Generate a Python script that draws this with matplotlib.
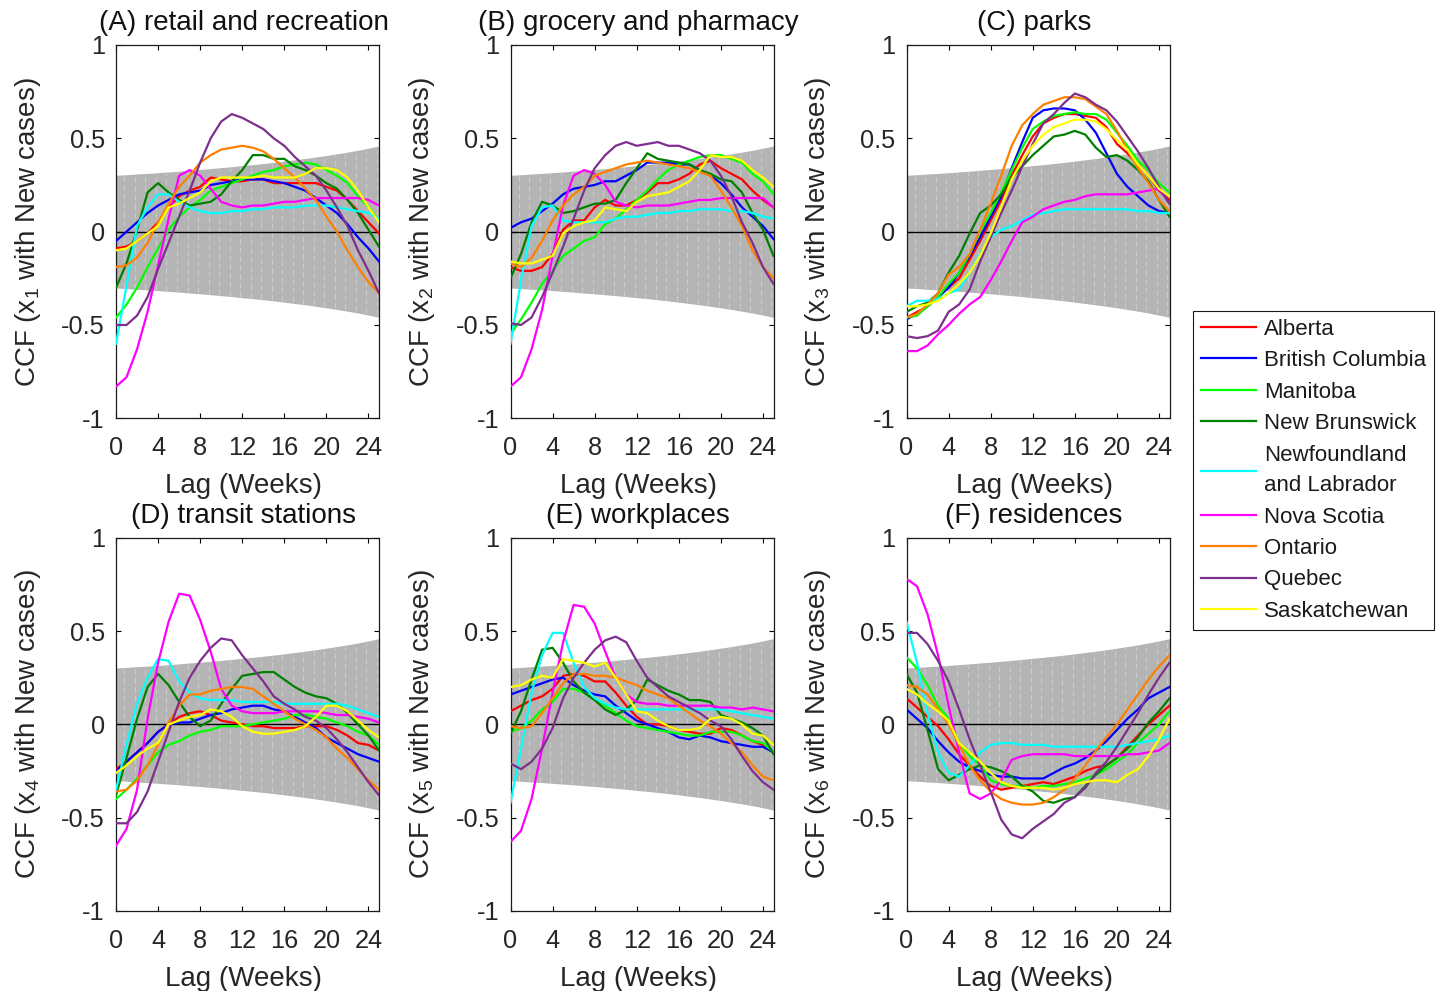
import numpy as np
import matplotlib
matplotlib.use("Agg")
import matplotlib.pyplot as plt

plt.rcParams['font.family'] = ['Liberation Sans', 'DejaVu Sans']
plt.rcParams['mathtext.fontset'] = 'custom'
plt.rcParams['mathtext.rm'] = 'Liberation Sans'
plt.rcParams['mathtext.it'] = 'Liberation Sans:italic'
plt.rcParams['axes.unicode_minus'] = False

lags = np.arange(26)

provinces = ["Alberta", "British Columbia", "Manitoba", "New Brunswick",
             "Newfoundland\nand Labrador", "Nova Scotia", "Ontario", "Quebec",
             "Saskatchewan"]
colors = ["#ff0000", "#0000ff", "#00ff00", "#008000", "#00ffff",
          "#ff00ff", "#ff8000", "#7e2f8e", "#ffff00"]

titles = ["(A) retail and recreation", "(B) grocery and pharmacy", "(C) parks",
          "(D) transit stations", "(E) workplaces", "(F) residences"]

# significance bound of the CCF at each lag
bound = [0.302, 0.305, 0.309, 0.312, 0.316, 0.320, 0.324, 0.329, 0.333,
         0.338, 0.343, 0.348, 0.354, 0.359, 0.365, 0.371, 0.378, 0.385,
         0.392, 0.400, 0.408, 0.417, 0.426, 0.436, 0.447, 0.459]

# rows follow the province order above
retail = [
    [-0.09, -0.08, -0.05, -0.01, 0.05, 0.13, 0.19, 0.22, 0.24, 0.29, 0.28, 0.27, 0.27, 0.28, 0.28, 0.26, 0.26, 0.26, 0.26, 0.26, 0.24, 0.22, 0.17, 0.11, 0.05, -0.01],
    [-0.05, 0.00, 0.05, 0.10, 0.14, 0.17, 0.20, 0.21, 0.22, 0.25, 0.26, 0.27, 0.28, 0.28, 0.28, 0.27, 0.26, 0.24, 0.22, 0.18, 0.14, 0.10, 0.04, -0.03, -0.09, -0.16],
    [-0.46, -0.39, -0.30, -0.19, -0.09, 0.01, 0.08, 0.13, 0.17, 0.22, 0.24, 0.26, 0.28, 0.30, 0.32, 0.33, 0.35, 0.36, 0.37, 0.36, 0.33, 0.30, 0.26, 0.19, 0.13, 0.06],
    [-0.30, -0.17, 0.01, 0.21, 0.26, 0.21, 0.17, 0.14, 0.15, 0.16, 0.20, 0.27, 0.33, 0.41, 0.41, 0.39, 0.39, 0.35, 0.33, 0.30, 0.26, 0.23, 0.17, 0.10, 0.01, -0.08],
    [-0.60, -0.29, 0.03, 0.13, 0.20, 0.20, 0.16, 0.13, 0.11, 0.10, 0.10, 0.11, 0.11, 0.12, 0.12, 0.13, 0.13, 0.13, 0.14, 0.14, 0.14, 0.13, 0.12, 0.11, 0.10, 0.07],
    [-0.83, -0.78, -0.63, -0.43, -0.18, 0.07, 0.30, 0.33, 0.30, 0.23, 0.16, 0.14, 0.13, 0.14, 0.14, 0.15, 0.16, 0.16, 0.17, 0.18, 0.18, 0.18, 0.18, 0.18, 0.17, 0.14],
    [-0.19, -0.18, -0.14, -0.06, 0.05, 0.15, 0.24, 0.30, 0.37, 0.41, 0.44, 0.45, 0.46, 0.45, 0.43, 0.39, 0.34, 0.29, 0.23, 0.17, 0.08, 0.00, -0.10, -0.19, -0.27, -0.33],
    [-0.50, -0.50, -0.45, -0.35, -0.20, -0.06, 0.08, 0.22, 0.37, 0.50, 0.59, 0.63, 0.61, 0.58, 0.55, 0.50, 0.46, 0.40, 0.35, 0.30, 0.22, 0.13, 0.03, -0.10, -0.21, -0.33],
    [-0.10, -0.09, -0.05, -0.01, 0.03, 0.13, 0.15, 0.18, 0.21, 0.27, 0.29, 0.29, 0.29, 0.29, 0.30, 0.29, 0.29, 0.29, 0.31, 0.34, 0.34, 0.33, 0.29, 0.22, 0.13, 0.05],
]

grocery = [
    [-0.19, -0.21, -0.21, -0.19, -0.12, 0.01, 0.06, 0.06, 0.13, 0.17, 0.14, 0.14, 0.17, 0.21, 0.26, 0.26, 0.28, 0.31, 0.36, 0.38, 0.34, 0.31, 0.28, 0.22, 0.17, 0.13],
    [0.02, 0.05, 0.07, 0.11, 0.15, 0.20, 0.23, 0.24, 0.25, 0.27, 0.27, 0.30, 0.33, 0.37, 0.37, 0.37, 0.36, 0.36, 0.33, 0.30, 0.26, 0.20, 0.13, 0.08, 0.03, -0.04],
    [-0.55, -0.47, -0.38, -0.28, -0.21, -0.13, -0.09, -0.05, -0.03, 0.04, 0.07, 0.12, 0.17, 0.22, 0.28, 0.33, 0.36, 0.38, 0.40, 0.41, 0.41, 0.39, 0.37, 0.31, 0.27, 0.20],
    [-0.25, -0.12, 0.05, 0.16, 0.14, 0.10, 0.11, 0.13, 0.15, 0.15, 0.17, 0.26, 0.34, 0.42, 0.39, 0.38, 0.37, 0.36, 0.33, 0.31, 0.28, 0.27, 0.21, 0.10, 0.01, -0.13],
    [-0.60, -0.26, 0.03, 0.13, 0.14, 0.06, 0.05, 0.05, 0.05, 0.05, 0.07, 0.08, 0.08, 0.09, 0.10, 0.10, 0.11, 0.11, 0.12, 0.12, 0.12, 0.11, 0.11, 0.10, 0.08, 0.07],
    [-0.83, -0.78, -0.63, -0.42, -0.13, 0.14, 0.30, 0.33, 0.31, 0.25, 0.16, 0.14, 0.13, 0.14, 0.14, 0.14, 0.15, 0.16, 0.17, 0.17, 0.18, 0.18, 0.18, 0.18, 0.18, 0.13],
    [-0.17, -0.19, -0.14, -0.05, 0.06, 0.14, 0.20, 0.24, 0.30, 0.32, 0.34, 0.36, 0.37, 0.38, 0.37, 0.36, 0.35, 0.34, 0.32, 0.30, 0.22, 0.13, 0.03, -0.10, -0.19, -0.25],
    [-0.49, -0.50, -0.46, -0.35, -0.22, -0.08, 0.07, 0.22, 0.34, 0.41, 0.46, 0.48, 0.46, 0.47, 0.48, 0.46, 0.46, 0.44, 0.42, 0.38, 0.30, 0.19, 0.05, -0.06, -0.19, -0.28],
    [-0.16, -0.17, -0.17, -0.15, -0.13, -0.01, 0.03, 0.05, 0.06, 0.13, 0.12, 0.11, 0.16, 0.19, 0.20, 0.21, 0.24, 0.27, 0.33, 0.41, 0.40, 0.40, 0.38, 0.33, 0.29, 0.24],
]

parks = [
    [-0.46, -0.43, -0.40, -0.35, -0.30, -0.25, -0.15, -0.05, 0.06, 0.17, 0.30, 0.41, 0.51, 0.58, 0.61, 0.63, 0.63, 0.62, 0.61, 0.56, 0.47, 0.42, 0.36, 0.30, 0.22, 0.17],
    [-0.47, -0.44, -0.40, -0.35, -0.30, -0.22, -0.13, -0.03, 0.08, 0.19, 0.34, 0.48, 0.61, 0.65, 0.66, 0.66, 0.65, 0.60, 0.53, 0.42, 0.31, 0.24, 0.19, 0.14, 0.11, 0.10],
    [-0.46, -0.45, -0.40, -0.35, -0.28, -0.22, -0.12, 0.00, 0.10, 0.21, 0.33, 0.45, 0.55, 0.59, 0.62, 0.63, 0.64, 0.63, 0.63, 0.60, 0.53, 0.46, 0.38, 0.33, 0.26, 0.21],
    [-0.43, -0.40, -0.38, -0.33, -0.22, -0.13, -0.01, 0.10, 0.14, 0.20, 0.29, 0.35, 0.41, 0.46, 0.51, 0.52, 0.54, 0.52, 0.45, 0.40, 0.41, 0.38, 0.33, 0.27, 0.17, 0.08],
    [-0.40, -0.37, -0.37, -0.36, -0.33, -0.31, -0.22, -0.12, -0.03, 0.01, 0.03, 0.06, 0.09, 0.10, 0.11, 0.12, 0.12, 0.12, 0.12, 0.12, 0.12, 0.12, 0.11, 0.11, 0.10, 0.10],
    [-0.64, -0.64, -0.61, -0.55, -0.50, -0.44, -0.39, -0.35, -0.26, -0.16, -0.05, 0.05, 0.08, 0.12, 0.14, 0.16, 0.17, 0.19, 0.20, 0.20, 0.20, 0.20, 0.21, 0.22, 0.23, 0.15],
    [-0.46, -0.44, -0.39, -0.33, -0.23, -0.19, -0.12, 0.01, 0.15, 0.30, 0.46, 0.57, 0.63, 0.68, 0.70, 0.72, 0.72, 0.71, 0.67, 0.63, 0.54, 0.44, 0.34, 0.26, 0.17, 0.11],
    [-0.56, -0.57, -0.56, -0.53, -0.43, -0.39, -0.31, -0.16, -0.03, 0.10, 0.22, 0.35, 0.47, 0.58, 0.63, 0.69, 0.74, 0.72, 0.68, 0.65, 0.59, 0.51, 0.43, 0.34, 0.24, 0.15],
    [-0.40, -0.40, -0.39, -0.37, -0.33, -0.28, -0.22, -0.13, -0.01, 0.13, 0.28, 0.38, 0.46, 0.52, 0.56, 0.58, 0.60, 0.60, 0.59, 0.55, 0.49, 0.44, 0.36, 0.30, 0.23, 0.19],
]

transit = [
    [-0.24, -0.20, -0.15, -0.10, -0.04, 0.00, 0.04, 0.06, 0.07, 0.05, 0.02, 0.01, 0.00, -0.01, -0.01, -0.02, -0.02, -0.02, -0.01, -0.01, -0.01, -0.03, -0.06, -0.10, -0.11, -0.14],
    [-0.25, -0.20, -0.15, -0.10, -0.04, 0.00, 0.01, 0.01, 0.03, 0.05, 0.06, 0.08, 0.09, 0.10, 0.10, 0.08, 0.07, 0.04, 0.01, -0.02, -0.07, -0.10, -0.13, -0.16, -0.18, -0.20],
    [-0.40, -0.35, -0.29, -0.22, -0.15, -0.11, -0.09, -0.06, -0.04, -0.03, -0.01, -0.01, -0.01, 0.00, 0.01, 0.02, 0.03, 0.05, 0.05, 0.04, 0.03, 0.01, -0.01, -0.04, -0.06, -0.11],
    [-0.38, -0.18, 0.03, 0.20, 0.27, 0.21, 0.12, 0.04, -0.01, 0.02, 0.11, 0.19, 0.26, 0.27, 0.28, 0.28, 0.24, 0.20, 0.17, 0.15, 0.14, 0.11, 0.06, 0.00, -0.06, -0.14],
    [-0.35, -0.11, 0.11, 0.25, 0.35, 0.34, 0.23, 0.17, 0.14, 0.13, 0.13, 0.13, 0.12, 0.12, 0.12, 0.12, 0.11, 0.11, 0.11, 0.11, 0.11, 0.11, 0.10, 0.08, 0.06, 0.04],
    [-0.65, -0.56, -0.35, 0.03, 0.33, 0.55, 0.70, 0.69, 0.56, 0.39, 0.19, 0.10, 0.07, 0.06, 0.06, 0.06, 0.07, 0.07, 0.07, 0.07, 0.06, 0.05, 0.05, 0.04, 0.03, 0.01],
    [-0.36, -0.35, -0.30, -0.22, -0.11, 0.01, 0.10, 0.16, 0.16, 0.18, 0.19, 0.20, 0.20, 0.19, 0.15, 0.11, 0.07, 0.03, 0.00, -0.03, -0.07, -0.13, -0.18, -0.24, -0.30, -0.35],
    [-0.53, -0.53, -0.47, -0.36, -0.20, -0.04, 0.12, 0.25, 0.34, 0.41, 0.46, 0.45, 0.37, 0.30, 0.23, 0.15, 0.11, 0.08, 0.04, 0.02, -0.02, -0.08, -0.15, -0.23, -0.31, -0.38],
    [-0.26, -0.22, -0.17, -0.13, -0.10, 0.00, 0.02, 0.04, 0.05, 0.08, 0.07, 0.04, -0.01, -0.04, -0.05, -0.05, -0.04, -0.03, -0.01, 0.04, 0.10, 0.10, 0.07, 0.02, -0.03, -0.07],
]

workplaces = [
    [0.07, 0.10, 0.13, 0.15, 0.19, 0.26, 0.27, 0.26, 0.23, 0.23, 0.17, 0.10, 0.04, 0.00, 0.00, -0.01, -0.03, -0.04, -0.05, -0.05, -0.02, -0.03, -0.06, -0.09, -0.11, -0.15],
    [0.16, 0.18, 0.20, 0.22, 0.24, 0.25, 0.21, 0.18, 0.16, 0.15, 0.10, 0.06, 0.02, 0.00, -0.02, -0.04, -0.07, -0.08, -0.06, -0.07, -0.09, -0.10, -0.11, -0.12, -0.12, -0.15],
    [-0.04, -0.02, 0.02, 0.08, 0.12, 0.19, 0.19, 0.17, 0.14, 0.10, 0.06, 0.02, -0.01, -0.02, -0.03, -0.04, -0.05, -0.06, -0.06, -0.04, -0.04, -0.04, -0.06, -0.09, -0.10, -0.15],
    [-0.05, 0.07, 0.24, 0.40, 0.41, 0.33, 0.23, 0.17, 0.13, 0.08, 0.05, 0.08, 0.13, 0.24, 0.21, 0.18, 0.16, 0.13, 0.13, 0.12, 0.05, 0.03, 0.01, -0.02, -0.06, -0.16],
    [-0.42, -0.13, 0.17, 0.37, 0.49, 0.49, 0.33, 0.20, 0.14, 0.11, 0.09, 0.08, 0.08, 0.08, 0.08, 0.08, 0.08, 0.08, 0.08, 0.08, 0.08, 0.07, 0.06, 0.05, 0.04, 0.03],
    [-0.63, -0.57, -0.40, -0.13, 0.17, 0.44, 0.64, 0.63, 0.54, 0.39, 0.25, 0.16, 0.12, 0.11, 0.11, 0.10, 0.10, 0.10, 0.10, 0.10, 0.09, 0.09, 0.08, 0.09, 0.08, 0.07],
    [-0.01, -0.02, -0.01, 0.06, 0.14, 0.22, 0.27, 0.27, 0.26, 0.26, 0.25, 0.23, 0.21, 0.18, 0.16, 0.14, 0.10, 0.06, 0.02, -0.01, -0.05, -0.10, -0.15, -0.22, -0.28, -0.30],
    [-0.21, -0.24, -0.20, -0.13, -0.02, 0.14, 0.25, 0.33, 0.40, 0.45, 0.47, 0.44, 0.34, 0.25, 0.20, 0.15, 0.12, 0.09, 0.06, 0.02, -0.01, -0.08, -0.17, -0.25, -0.31, -0.35],
    [0.20, 0.21, 0.24, 0.26, 0.25, 0.35, 0.34, 0.33, 0.31, 0.33, 0.25, 0.16, 0.07, 0.06, 0.02, -0.01, -0.03, -0.03, -0.02, 0.03, 0.04, 0.03, 0.00, -0.05, -0.06, -0.11],
]

residences = [
    [0.14, 0.09, 0.04, -0.01, -0.08, -0.16, -0.22, -0.28, -0.33, -0.35, -0.34, -0.33, -0.32, -0.31, -0.32, -0.30, -0.28, -0.25, -0.23, -0.22, -0.18, -0.12, -0.06, 0.00, 0.05, 0.10],
    [0.08, 0.03, -0.02, -0.09, -0.15, -0.20, -0.23, -0.25, -0.27, -0.28, -0.28, -0.29, -0.29, -0.29, -0.26, -0.23, -0.21, -0.18, -0.14, -0.09, -0.03, 0.03, 0.08, 0.14, 0.17, 0.20],
    [0.36, 0.30, 0.21, 0.10, 0.03, -0.10, -0.17, -0.22, -0.30, -0.32, -0.33, -0.33, -0.34, -0.33, -0.33, -0.32, -0.31, -0.29, -0.27, -0.24, -0.20, -0.16, -0.10, -0.05, 0.00, 0.07],
    [0.27, 0.17, -0.03, -0.24, -0.30, -0.27, -0.24, -0.22, -0.23, -0.25, -0.28, -0.33, -0.36, -0.41, -0.42, -0.40, -0.39, -0.33, -0.27, -0.22, -0.18, -0.13, -0.07, 0.01, 0.07, 0.14],
    [0.55, 0.33, 0.06, -0.15, -0.26, -0.28, -0.22, -0.15, -0.11, -0.10, -0.10, -0.11, -0.11, -0.11, -0.12, -0.12, -0.12, -0.12, -0.12, -0.12, -0.12, -0.11, -0.10, -0.09, -0.08, -0.06],
    [0.78, 0.74, 0.59, 0.37, 0.10, -0.15, -0.37, -0.40, -0.37, -0.30, -0.19, -0.17, -0.16, -0.16, -0.16, -0.16, -0.17, -0.17, -0.17, -0.17, -0.17, -0.16, -0.16, -0.15, -0.14, -0.10],
    [0.21, 0.20, 0.16, 0.08, 0.00, -0.11, -0.22, -0.30, -0.36, -0.40, -0.42, -0.43, -0.43, -0.42, -0.39, -0.35, -0.29, -0.22, -0.14, -0.07, 0.00, 0.08, 0.16, 0.24, 0.31, 0.37],
    [0.49, 0.49, 0.43, 0.34, 0.23, 0.08, -0.08, -0.22, -0.36, -0.51, -0.59, -0.61, -0.56, -0.52, -0.48, -0.42, -0.39, -0.34, -0.26, -0.20, -0.12, -0.03, 0.06, 0.16, 0.25, 0.33],
    [0.19, 0.16, 0.11, 0.07, 0.02, -0.10, -0.15, -0.20, -0.26, -0.31, -0.33, -0.34, -0.34, -0.34, -0.35, -0.34, -0.32, -0.31, -0.30, -0.30, -0.31, -0.27, -0.24, -0.17, -0.08, 0.03],
]

panels = [retail, grocery, parks, transit, workplaces, residences]

fig = plt.figure(figsize=(14.4, 9.91), dpi=100)

W, H = 1440, 991
col_left = [116, 510.5, 906.5]
row_top = [45, 537.7]
ax_w, ax_h = 263, 373.3

band = np.array(bound)
lines = []
for i, data in enumerate(panels):
    r, c = divmod(i, 3)
    ax = fig.add_axes([col_left[c] / W, 1 - (row_top[r] + ax_h) / H, ax_w / W, ax_h / H])

    ax.fill_between(lags, -band, band, color="#b4b4b4", lw=0, zorder=1)
    ax.vlines(lags[:-1] + 0.8, -band[:-1], band[:-1], color="white", alpha=0.3,
              lw=0.8, linestyles=(0, (5, 3)), zorder=1.5)
    ax.axhline(0, color="black", lw=1.0, zorder=2)

    lines = []
    for row, col, name in zip(data, colors, provinces):
        ln, = ax.plot(lags, row, color=col, lw=1.6, zorder=3, label=name)
        lines.append(ln)

    ax.set_xlim(0, 25)
    ax.set_ylim(-1, 1)
    ax.set_xticks(range(0, 25, 4))
    ax.set_yticks([-1, -0.5, 0, 0.5, 1])
    ax.set_yticklabels(["-1", "-0.5", "0", "0.5", "1"])
    ax.tick_params(direction="in", length=3.5, width=0.8, top=True, right=True,
                   labelsize=18.3, labelcolor="#262626")
    ax.tick_params(axis="x", pad=13)
    ax.tick_params(axis="y", pad=8)
    for s in ax.spines.values():
        s.set_linewidth(0.9)
        s.set_color("#1a1a1a")

    ax.set_title(titles[i], fontsize=20, color="#111111", pad=10.5, x=0.485)
    ax.set_xlabel("Lag (Weeks)", fontsize=20, color="#262626", labelpad=9)
    ax.xaxis.label.set_x(0.485)
    ax.set_ylabel(f"CCF (x$_{i + 1}$ with New cases)", fontsize=20,
                  color="#262626")
    ax.yaxis.set_label_coords(-0.278, 0.5)

leg = fig.legend(handles=lines, loc="upper left",
                 bbox_to_anchor=(1193 / W, 1 - 311 / H), fontsize=16,
                 frameon=True, fancybox=False, framealpha=1, edgecolor="#1a1a1a",
                 handlelength=2.5, handletextpad=0.35, labelspacing=0.47,
                 borderpad=0.35, borderaxespad=0)
leg.get_frame().set_linewidth(0.8)
for t in leg.get_texts():
    t.set_color("#1a1a1a")
    t.set_linespacing(1.6)

fig.savefig("out.png", dpi=100)
